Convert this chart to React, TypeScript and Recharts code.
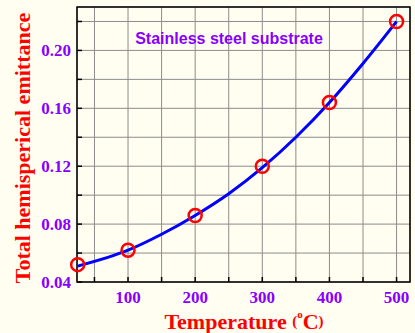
import {
  ComposedChart,
  CartesianGrid,
  Label,
  Line,
  ReferenceArea,
  Scatter,
  XAxis,
  YAxis,
} from "recharts";

document.body.style.margin = "0";

const temps = [25, 100, 200, 300, 400, 500];
const emittance = [0.052, 0.062, 0.086, 0.12, 0.164, 0.22];

// fitted curve
const fitTemps = [25, 100, 150, 200, 250, 300, 350, 400, 450, 500];
const fitValues = [0.051, 0.062, 0.073, 0.086, 0.101, 0.119, 0.14, 0.164, 0.191, 0.22];

const xTicks = [50, 100, 150, 200, 250, 300, 350, 400, 450, 500];
const yTicks = [0.04, 0.06, 0.08, 0.1, 0.12, 0.14, 0.16, 0.18, 0.2, 0.22];

const points = temps.map((t, i) => ({ t, e: emittance[i] }));
const curve = fitTemps.map((t, i) => ({ t, e: fitValues[i] }));

const PURPLE = "#8800ff";
const RED = "#ff0000";
const SERIF = "'Liberation Serif', 'Times New Roman', serif";

function XTick(props: any) {
  const { x, y, payload } = props;
  const v = payload.value as number;
  return (
    <g>
      <line x1={x} x2={x} y1={y} y2={y - 5} stroke="#000" strokeWidth={1.5} />
      {v % 100 === 0 && (
        <text x={x} y={y + 15} textAnchor="middle" dominantBaseline="central" fill={PURPLE}
          fontFamily={SERIF} fontWeight="bold" fontSize={17}>
          {v}
        </text>
      )}
    </g>
  );
}

function YTick(props: any) {
  const { x, y, payload } = props;
  const v = payload.value as number;
  const showLabel = Math.round(v * 100) % 4 === 0;
  return (
    <g>
      <line x1={x} x2={x + 5} y1={y} y2={y} stroke="#000" strokeWidth={1.5} />
      {showLabel && (
        <text x={x - 6} y={y} textAnchor="end" dominantBaseline="central" fill={PURPLE}
          fontFamily={SERIF} fontWeight="bold" fontSize={17}>
          {v.toFixed(2)}
        </text>
      )}
    </g>
  );
}

export default function App() {
  return (
    <div style={{ width: 415, height: 333, background: "#fffef0" }}>
      <ComposedChart width={415} height={333} margin={{ top: 7, right: 5, bottom: 0, left: 0 }}>
        <CartesianGrid stroke="#8c8c8c" strokeWidth={1} />
        <XAxis
          type="number"
          dataKey="t"
          domain={[24, 520]}
          ticks={xTicks}
          height={51}
          axisLine={false}
          tickLine={false}
          tickSize={0}
          tickMargin={0}
          tick={<XTick />}
          interval={0}
        >
          <Label
            content={() => (
              <text x={244} y={321} textAnchor="middle" dominantBaseline="central" fill={RED}
                fontFamily={SERIF} fontWeight="bold">
                <tspan fontSize={22}>Temperature </tspan>
                <tspan fontSize={15}>(</tspan>
                <tspan fontSize={11} dy={-7}>o</tspan>
                <tspan fontSize={22} dy={7}>C</tspan>
                <tspan fontSize={15}>)</tspan>
              </text>
            )}
          />
        </XAxis>
        <YAxis
          type="number"
          dataKey="e"
          domain={[0.04, 0.23]}
          ticks={yTicks}
          width={77}
          axisLine={false}
          tickLine={false}
          tickSize={0}
          tickMargin={0}
          tick={<YTick />}
          interval={0}
        >
          <Label
            content={() => (
              <text x={22} y={148} transform="rotate(-90 22 148)" textAnchor="middle"
                dominantBaseline="central" fill={RED} fontFamily={SERIF} fontWeight="bold" fontSize={22}>
                Total hemisperical emittance
              </text>
            )}
          />
        </YAxis>
        <ReferenceArea x1={24} x2={520} y1={0.04} y2={0.23} fill="none" stroke="#000" strokeWidth={1.5}
          strokeOpacity={1} />
        <Scatter
          data={points}
          dataKey="e"
          isAnimationActive={false}
          shape={(p: any) => <circle cx={p.cx} cy={p.cy} r={6.5} fill="none" stroke={RED} strokeWidth={2.5} />}
        />
        <Line
          data={curve}
          dataKey="e"
          type="monotone"
          stroke="#0000ff"
          strokeWidth={3}
          dot={false}
          activeDot={false}
          isAnimationActive={false}
        />
        <text x={229} y={38} textAnchor="middle" dominantBaseline="central" fill={PURPLE}
          fontFamily="'Liberation Sans', Arial, sans-serif" fontWeight="bold" fontSize={16}>
          Stainless steel substrate
        </text>
      </ComposedChart>
    </div>
  );
}
